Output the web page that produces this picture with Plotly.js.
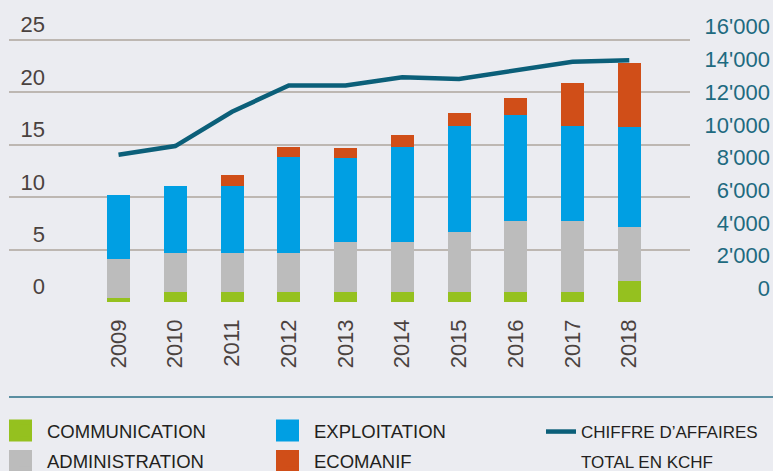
<!DOCTYPE html>
<html><head><meta charset="utf-8">
<script src="https://cdn.plot.ly/plotly-3.0.1.min.js"></script>
<style>html,body{margin:0;padding:0;background:#ebecf1;}#chart{width:773px;height:471px;}</style>
</head><body><div id="chart"></div>
<script>
const years = ['2009','2010','2011','2012','2013','2014','2015','2016','2017','2018'];
const communication = [0.4, 1, 1, 1, 1, 1, 1, 1, 1, 2];
const administration = [3.7, 3.7, 3.7, 3.7, 4.7, 4.7, 5.7, 6.7, 6.7, 5.2];
const exploitation = [6.1, 6.4, 6.4, 9.1, 8.0, 9.1, 10.1, 10.1, 9.1, 9.5];
const ecomanif = [0, 0, 1.0, 1.0, 1.0, 1.15, 1.2, 1.7, 4.1, 6.1];
const chiffreAffaires = [8170, 8700, 10800, 12400, 12400, 12900, 12800, 13300, 13850, 13950];
const leftTickVals = [0, 5, 10, 15, 20, 25];
const leftTickText = ['0', '5', '10', '15', '20', '25'];
const rightTickVals = [0, 2000, 4000, 6000, 8000, 10000, 12000, 14000, 16000];
const rightTickText = ["0", "2'000", "4'000", "6'000", "8'000", "10'000", "12'000", "14'000", "16'000"];

const W = 773, H = 471, ML = 9, MR = 0, MT = 5, MB = 169;
const PW = W - ML - MR, PH = H - MT - MB;
const px = x => (x - ML) / PW;
const py = y => (H - MB - y) / PH;
const FONT = '"Liberation Sans", Arial, sans-serif';

const colors = {comm:'#95c11f', admin:'#bcbcbc', expl:'#009fe3', eco:'#d04e18', line:'#0b5f79'};
const barW = 0.405;

const traces = [
  {type:'bar', x:years, y:communication, name:'COMMUNICATION', marker:{color:colors.comm}, width:barW, legend:'legend', legendgroup:'g1'},
  {type:'bar', x:years, y:administration, name:'ADMINISTRATION', marker:{color:colors.admin}, width:barW, legend:'legend', legendgroup:'g2'},
  {type:'bar', x:years, y:exploitation, name:'EXPLOITATION', marker:{color:colors.expl}, width:barW, legend:'legend2', legendgroup:'g3'},
  {type:'bar', x:years, y:ecomanif, name:'ECOMANIF', marker:{color:colors.eco}, width:barW, legend:'legend2', legendgroup:'g4'},
  {type:'scatter', mode:'lines', x:years, y:chiffreAffaires, yaxis:'y2', name:'CHIFFRE D’AFFAIRES', line:{color:colors.line, width:4.5}, legend:'legend3', legendgroup:'g5'},
  {type:'scatter', mode:'lines', x:years, y:chiffreAffaires, yaxis:'y2', name:'TOTAL EN KCHF', line:{color:'rgba(0,0,0,0)', width:0}, hoverinfo:'skip', legend:'legend3', legendgroup:'g6'}
];

const legendBase = {
  xref:'container', yref:'container', xanchor:'left', yanchor:'top', orientation:'v',
  font:{family:FONT, size:18.5, color:'#231f20'}, bgcolor:'rgba(0,0,0,0)',
  traceorder:'grouped', tracegroupgap:3, itemclick:false, itemdoubleclick:false
};
const legTop = 1 - 412 / H;
const legTop3 = 1 - 414 / H;

const layout = {
  width:W, height:H,
  margin:{l:ML, r:MR, t:MT, b:MB, pad:0, autoexpand:false},
  paper_bgcolor:'#ebecf1', plot_bgcolor:'#ebecf1',
  barmode:'stack',
  showlegend:true,
  xaxis:{type:'category', range:[-1.93, 10.07], domain:[0, 681/764], tickangle:-90,
    tickfont:{family:FONT, size:22, color:'#4a423f'}, showgrid:false, zeroline:false, showline:false,
    ticks:'', ticklabelstandoff:12, automargin:false, fixedrange:true},
  yaxis:{range:[0, 28.34], tickvals:leftTickVals, ticktext:leftTickText, anchor:'free', position:0.047, side:'left',
    ticklabelposition:'outside top', showgrid:true, gridcolor:'#bdb7b2', gridwidth:2, zeroline:false, showline:false,
    ticks:'', tickfont:{family:FONT, size:22, color:'#4a423f'}, automargin:false, fixedrange:true},
  yaxis2:{overlaying:'y', side:'right', anchor:'free', position:1, range:[-831, 17323],
    tickvals:rightTickVals, ticktext:rightTickText, ticklabelposition:'inside', showgrid:false, zeroline:false,
    showline:false, ticks:'', tickfont:{family:FONT, size:22, color:'#1e6a80'}, automargin:false, fixedrange:true},
  legend:Object.assign({}, legendBase, {x:3/W, y:legTop, itemwidth:34}),
  legend2:Object.assign({}, legendBase, {x:270/W, y:legTop, itemwidth:34}),
  legend3:Object.assign({}, legendBase, {x:541/W, y:legTop3, itemwidth:30, font:{family:FONT, size:17, color:'#231f20'}, tracegroupgap:5}),
  shapes:[
    {type:'line', xref:'paper', yref:'paper', x0:px(9), x1:px(773), y0:py(397), y1:py(397), line:{color:'#2a6f86', width:1.5}},
    {type:'rect', xref:'paper', yref:'paper', x0:px(9), x1:px(32), y0:py(419.5), y1:py(441.5), fillcolor:colors.comm, line:{width:0}},
    {type:'rect', xref:'paper', yref:'paper', x0:px(9), x1:px(32), y0:py(450), y1:py(472), fillcolor:colors.admin, line:{width:0}},
    {type:'rect', xref:'paper', yref:'paper', x0:px(276), x1:px(299), y0:py(419.5), y1:py(441.5), fillcolor:colors.expl, line:{width:0}},
    {type:'rect', xref:'paper', yref:'paper', x0:px(276), x1:px(299), y0:py(450), y1:py(472), fillcolor:colors.eco, line:{width:0}}
  ]
};

Plotly.newPlot('chart', traces, layout, {displayModeBar:false, staticPlot:true});
</script>
</body></html>
